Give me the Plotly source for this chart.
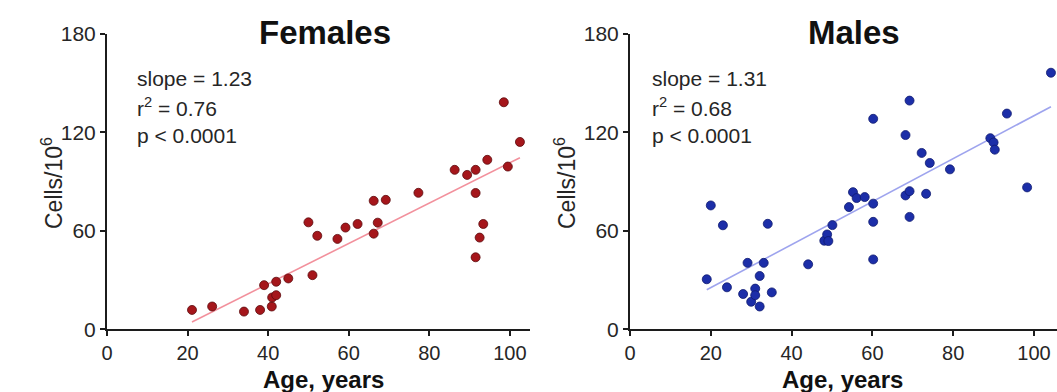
import plotly.graph_objects as go

# ---------------- data ----------------
female_age = [21.1, 26.1, 34.0, 38.0, 39.0, 40.9, 41.0, 42.0, 42.0, 45.0,
              50.0, 51.0, 52.2, 57.2, 59.2, 62.2, 66.2, 66.2, 67.2, 69.2,
              77.3, 86.3, 89.4, 91.5, 91.5, 91.5, 92.5, 93.4, 94.4, 98.5,
              99.5, 102.5]
female_cells = [11.8, 13.9, 10.8, 11.8, 26.9, 13.9, 19.4, 20.8, 29.0, 31.0,
                65.2, 33.0, 57.0, 55.1, 62.0, 64.2, 78.3, 58.3, 65.0, 78.9,
                83.2, 97.2, 94.1, 97.2, 83.1, 43.9, 55.9, 64.2, 103.3, 138.4,
                99.2, 114.2]

male_age = [19.0, 20.0, 23.0, 24.0, 28.0, 29.1, 30.0, 31.0, 31.0, 32.1,
            32.1, 33.1, 34.1, 35.1, 44.1, 48.1, 48.8, 49.1, 50.1, 54.2,
            55.2, 56.1, 58.1, 60.2, 60.2, 60.2, 60.2, 68.2, 69.2, 68.2,
            69.2, 69.2, 72.2, 74.2, 73.3, 79.2, 89.2, 90.0, 90.3, 93.3,
            98.3, 104.2]
male_cells = [30.5, 75.5, 63.4, 25.6, 21.5, 40.5, 16.8, 24.8, 20.8, 32.5,
              13.9, 40.5, 64.3, 22.5, 39.6, 54.0, 57.8, 53.8, 63.5, 74.5,
              83.6, 80.0, 80.6, 76.6, 65.5, 42.6, 128.3, 118.4, 139.4, 81.6,
              84.2, 68.5, 107.5, 101.4, 82.6, 97.5, 116.5, 113.9, 109.5, 131.5,
              86.5, 156.4]

# fitted regression lines
female_fit = {"slope": 1.23, "intercept": -21.5, "x0": 21.1, "x1": 102.5}
male_fit = {"slope": 1.31, "intercept": -0.8, "x0": 19.0, "x1": 104.2}

female_stats = ["slope = 1.23", "r<sup>2</sup> = 0.76", "p < 0.0001"]
male_stats = ["slope = 1.31", "r<sup>2</sup> = 0.68", "p < 0.0001"]

y_ticks = [0, 60, 120, 180]
x_ticks = [0, 20, 40, 60, 80, 100]

# ---------------- figure ----------------
W, H = 1057, 392
FONT = "Liberation Sans, Arial, Helvetica, sans-serif"
AX = "#1c1c1c"
TXT = "#262626"


def px(x):
    return x / W


def py(y):
    return 1 - y / H


fig = go.Figure()

for (ages, cells, fit, xa, ya, mcol, mline, lcol) in [
    (female_age, female_cells, female_fit, "x", "y", "#a5161b", "#5c0a0c", "#f2909c"),
    (male_age, male_cells, male_fit, "x2", "y2", "#1c2ea8", "#0f1a70", "#9ea4ee"),
]:
    fx = [fit["x0"], fit["x1"]]
    fy = [fit["slope"] * v + fit["intercept"] for v in fx]
    fig.add_trace(go.Scatter(x=fx, y=fy, mode="lines", xaxis=xa, yaxis=ya,
                             line=dict(color=lcol, width=1.6), hoverinfo="skip",
                             showlegend=False))
    fig.add_trace(go.Scatter(x=ages, y=cells, mode="markers", xaxis=xa, yaxis=ya,
                             marker=dict(size=9, color=mcol,
                                         line=dict(color=mline, width=0.8)),
                             showlegend=False, cliponaxis=False))

y_dom = [(H - 329.3) / H, (H - 34) / H]
axis_common = dict(showgrid=False, zeroline=False, showline=True, linecolor=AX,
                   linewidth=2, ticks="outside", ticklen=5, tickwidth=2,
                   automargin=False, tickcolor=AX)
xfont = dict(family=FONT, size=20, color=TXT)
yfont = dict(family=FONT, size=21, color=TXT)

fig.update_layout(
    template="none",
    width=W, height=H,
    margin=dict(l=0, r=0, t=0, b=0, pad=0, autoexpand=False),
    paper_bgcolor="white", plot_bgcolor="white",
    font=dict(family=FONT, color=TXT),
    xaxis=dict(domain=[px(107), px(530)], range=[0, 105], tickvals=x_ticks,
               anchor="y", tickfont=xfont, **axis_common),
    yaxis=dict(domain=y_dom, range=[0, 180], tickvals=y_ticks, anchor="x",
               tickfont=yfont, **axis_common),
    xaxis2=dict(domain=[px(630), 1.0], range=[0, 105.7], tickvals=x_ticks,
                anchor="y2", tickfont=xfont, **axis_common),
    yaxis2=dict(domain=y_dom, range=[0, 180], tickvals=y_ticks, anchor="x2",
                tickfont=yfont, **axis_common),
)

ann = []
# titles
for text, cx in [("Females", 325), ("Males", 854)]:
    ann.append(dict(text=f"<b>{text}</b>", x=px(cx), y=py(33), xref="paper",
                    yref="paper", xanchor="center", yanchor="middle",
                    showarrow=False, font=dict(family=FONT, size=33, color="#111")))
# x axis titles
for cx in [323, 842]:
    ann.append(dict(text="<b>Age, years</b>", x=px(cx), y=py(379), xref="paper",
                    yref="paper", xanchor="center", yanchor="middle",
                    showarrow=False, font=dict(family=FONT, size=24, color="#111")))
# y axis titles
for cx in [52, 565]:
    ann.append(dict(text="Cells/10<sup>6</sup>", x=px(cx), y=py(183), xref="paper",
                    yref="paper", xanchor="center", yanchor="middle", textangle=-90,
                    showarrow=False, font=dict(family=FONT, size=23, color=TXT)))
# stats text
for lines, lx in [(female_stats, 135), (male_stats, 650)]:
    for i, t in enumerate(lines):
        ann.append(dict(text=t, x=px(lx), y=py(78 + 29 * i), xref="paper",
                        yref="paper", xanchor="left", yanchor="middle",
                        showarrow=False, font=dict(family=FONT, size=21, color=TXT)))

fig.update_layout(annotations=ann)
fig.write_html("out.html")
